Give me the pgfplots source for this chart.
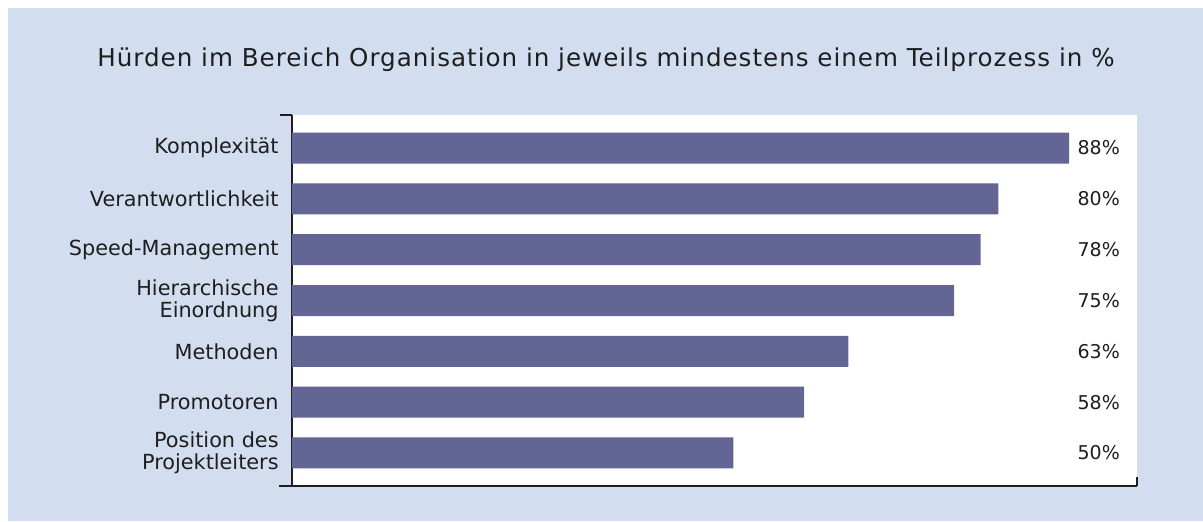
\documentclass[border=0pt]{standalone}
\usepackage{pgfplots}
\pgfplotsset{compat=1.18}
\usepackage{pgfplotstable}
\usepackage{fontspec}
\setmainfont{DejaVu Sans}
\newfontfamily\titlefont[LetterSpace=4]{DejaVu Sans}
\definecolor{bgblue}{HTML}{D3DDF0}
\definecolor{barblue}{HTML}{636594}
\definecolor{ink}{HTML}{1E1E1E}

% Hürden im Bereich Organisation, Anteil in %
\pgfplotstableread{
idx value
0 88
1 80
2 78
3 75
4 63
5 58
6 50
}\hurden

\begin{document}
\begin{tikzpicture}
% background (1px = 0.5pt)
\fill[white] (-146pt,-17.5pt) rectangle (455.5pt,243pt);
\fill[bgblue] (-142pt,-17.5pt) rectangle (455.5pt,239pt);

\begin{axis}[
  scale only axis, width=422.5pt, height=185.5pt,
  xmin=0, xmax=95.7, ymin=-0.65, ymax=6.65, y dir=reverse,
  axis background/.style={fill=white},
  axis x line*=bottom, axis y line*=left,
  axis line style={line width=0.8pt, ink},
  xtick=\empty,
  ytick={0,...,6},
  yticklabels={Komplexität, Verantwortlichkeit, Speed-Management,
    {Hierarchische\\Einordnung}, Methoden, Promotoren,
    {Position des\\Projektleiters}},
  major tick length=0pt,
  yticklabel style={align=right, inner sep=0pt, xshift=-6.5pt,
    font=\fontsize{10.4}{11}\selectfont, text=ink},
  /pgf/number format/assume math mode=true,
  clip=false,
]
\addplot[xbar, bar width=15.5pt, bar shift=0pt, fill=barblue, draw=none]
  table[x=value, y=idx] {\hurden};
\addplot[draw=none, mark=none, point meta=explicit,
  nodes near coords={\pgfmathprintnumber{\pgfplotspointmeta}\%},
  every node near coord/.append style={anchor=east, inner sep=0pt,
    font=\fontsize{9.5}{11}\selectfont, text=ink}]
  table[x expr=93.8, y=idx, meta=value] {\hurden};
\end{axis}

\draw[line width=0.8pt, ink] (current axis.north west) -- ++(-6pt,0);
\draw[line width=0.8pt, ink] (current axis.south west) -- ++(-6.5pt,0);
\draw[line width=0.8pt, ink] (current axis.south east) -- ++(0,4.5pt);

\node[font=\titlefont\fontsize{12.3}{14}\selectfont, text=ink] at (157pt,213pt)
  {Hürden im Bereich Organisation in jeweils mindestens einem Teilprozess in \%};
\end{tikzpicture}
\end{document}
